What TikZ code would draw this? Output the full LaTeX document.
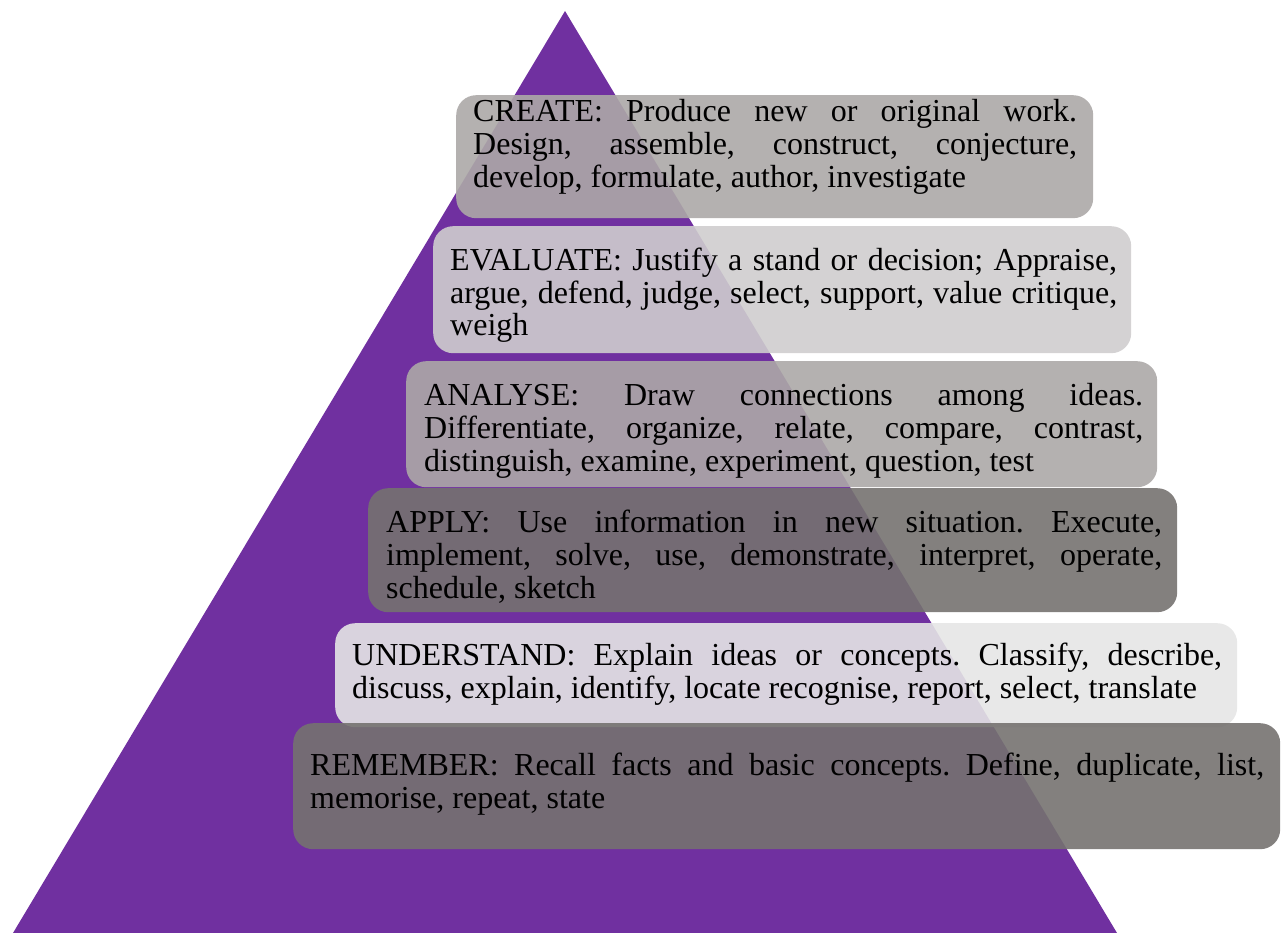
\documentclass[tikz,border=0pt]{standalone}
\usepackage{fontspec}
\setmainfont{Liberation Serif}
\usetikzlibrary{positioning, calc}
\definecolor{cPyramid}{RGB}{112, 48, 160}
\definecolor{cTierMid}{RGB}{172, 168, 167}
\definecolor{cTierLight}{RGB}{207, 205, 206}
\definecolor{cTierDark}{RGB}{117, 114, 112}
\definecolor{cTierPale}{RGB}{229, 229, 229}
\tolerance=9999
\emergencystretch=0pt
\frenchspacing
\tikzset{
    % --- tier boxes ---
    tierBox/.style={
        rectangle, rounded corners=20pt, draw=none,
        fill opacity=0.9, inner sep=0pt, anchor=north west
    },
    % --- tier texts ---
    tierText/.style={
        inner sep=0pt, align=justify, text=black,
        font=\fontsize{32}{33}\selectfont\frenchspacing
    }
}

\begin{document}
\begin{tikzpicture}[x=1pt, y=-1pt]
	\useasboundingbox (0,0) rectangle (1287,933);

	% =========================================================
	% 1. Pyramid
	% =========================================================
	\fill[cPyramid] (565,11) -- (1117,933) -- (13,933) -- cycle;

	% =========================================================
	% 2. Tiers
	% =========================================================

	% --- Tier 1: create ---
	\node[tierBox, fill=cTierMid, minimum width=637pt, minimum height=123pt] (l1_box) at (456,95) {};
	\node[tierText, text width=604pt, below right=27pt and 17pt of l1_box.north west, anchor=base west] (l1_txt)
		{CREATE: Produce new or original work.\linebreak Design, assemble, construct, conjecture,\linebreak develop, formulate, author, investigate};

	% --- Tier 2: evaluate ---
	\node[tierBox, fill=cTierLight, minimum width=698pt, minimum height=127pt] (l2_box) at (433,226) {};
	\node[tierText, text width=667pt, below right=44pt and 17pt of l2_box.north west, anchor=base west] (l2_txt)
		{EVALUATE: Justify a stand or decision; Appraise,\linebreak argue, defend, judge, select, support, value critique,\linebreak weigh};

	% --- Tier 3: analyse ---
	\node[tierBox, fill=cTierMid, minimum width=751pt, minimum height=126pt] (l3_box) at (406,361) {};
	\node[tierText, text width=719pt, below right=44pt and 18pt of l3_box.north west, anchor=base west] (l3_txt)
		{ANALYSE: Draw connections among ideas.\linebreak Differentiate, organize, relate, compare, contrast,\linebreak distinguish, examine, experiment, question, test};

	% --- Tier 4: apply ---
	\node[tierBox, fill=cTierDark, minimum width=809pt, minimum height=124pt] (l4_box) at (368,488) {};
	\node[tierText, text width=776pt, below right=44pt and 18pt of l4_box.north west, anchor=base west] (l4_txt)
		{APPLY: Use information in new situation. Execute,\linebreak implement, solve, use, demonstrate, interpret, operate,\linebreak schedule, sketch};

	% --- Tier 5: understand ---
	\node[tierBox, fill=cTierPale, minimum width=902pt, minimum height=104pt] (l5_box) at (335,623) {};
	\node[tierText, text width=870pt, below right=42pt and 17pt of l5_box.north west, anchor=base west] (l5_txt)
		{UNDERSTAND: Explain ideas or concepts. Classify, describe,\linebreak discuss, explain, identify, locate recognise, report, select, translate};

	% --- Tier 6: remember ---
	\node[tierBox, fill=cTierDark, minimum width=987pt, minimum height=126pt] (l6_box) at (293,723) {};
	\node[tierText, text width=954pt, below right=52pt and 17pt of l6_box.north west, anchor=base west] (l6_txt)
		{REMEMBER: Recall facts and basic concepts. Define, duplicate, list,\linebreak memorise, repeat, state};

\end{tikzpicture}
\end{document}
